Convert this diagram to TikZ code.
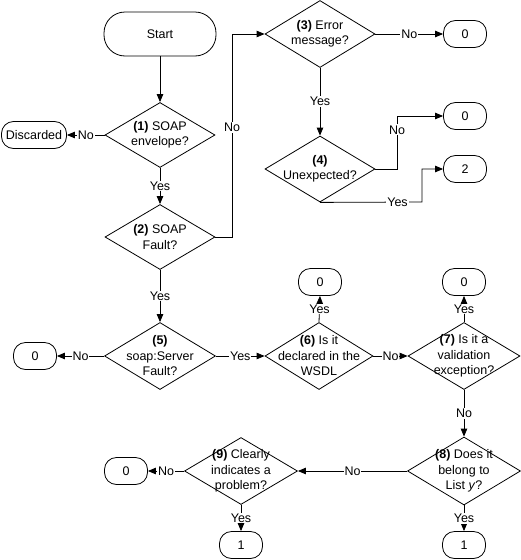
\documentclass[tikz,border=0pt]{standalone}
\usepackage{fontspec}
\setmainfont{Liberation Sans}
\usetikzlibrary{arrows.meta,shapes.geometric}
\begin{document}
\begin{tikzpicture}[x=1pt,y=-1pt,
  every node/.style={font=\fontsize{12.5}{15.5}\selectfont},
  txt/.style={align=center, inner sep=0pt},
  dia/.style={diamond, draw, inner sep=0pt, minimum width=110pt, minimum height=67pt},
  term/.style={draw, rounded corners=12pt, minimum width=43pt, minimum height=27pt, inner sep=0pt},
  arr/.style={draw, line width=0.8pt, -{Triangle[length=8pt,width=6.5pt]}},
  lbl/.style={fill=white, inner sep=1pt},
  line width=0.8pt]
\useasboundingbox (0,0) rectangle (521,560);

% terminals
\node[term, minimum width=112pt, minimum height=44pt, rounded corners=21pt] (start) at (160,34) {Start};
\node[term, minimum width=65pt] (disc) at (34,135) {Discarded};
\node[term] (z3) at (465,34) {0};
\node[term] (z4) at (465,116) {0};
\node[term] (two) at (465,169) {2};
\node[term] (z5) at (35,356) {0};
\node[term] (z6) at (320,282) {0};
\node[term] (z7) at (464,282) {0};
\node[term] (z9) at (126,471) {0};
\node[term] (one9) at (241,545) {1};
\node[term] (one8) at (464,545) {1};

% decisions
\node[dia, minimum height=65pt, label={[txt]center:{\textbf{(1)} SOAP\\envelope?}}] (d1) at (160,135) {};
\node[dia, minimum height=65pt, label={[txt]center:{\textbf{(2)} SOAP\\Fault?}}] (d2) at (160,237) {};
\node[dia, label={[txt]center:{\textbf{(3)} Error\\message?}}] (d3) at (320,34) {};
\node[dia, minimum height=66pt, label={[txt]center:{\textbf{(4)}\\Unexpected?}}] (d4) at (320,169) {};
\node[dia, minimum width=111pt, label={[txt]center:{\textbf{(5)}\\soap:Server\\Fault?}}] (d5) at (160,356) {};
\node[dia, minimum width=108pt, label={[txt]center:{\textbf{(6)} Is it\\declared in the\\WSDL}}] (d6) at (319,356) {};
\node[dia, minimum width=112pt, label={[txt]center:{\textbf{(7)} Is it a\\validation\\exception?}}] (d7) at (464,356) {};
\node[dia, minimum width=113pt, minimum height=68pt, label={[txt]center:{\textbf{(8)} Does it\\belong to\\List \textit{y}?}}] (d8) at (464,471) {};
\node[dia, minimum width=113pt, label={[txt]center:{\textbf{(9)} Clearly\\indicates a\\problem?}}] (d9) at (241,471) {};

% helper coordinates
\coordinate (c2a) at (232,237);
\coordinate (c2b) at (232,34);
\coordinate (c4a) at (397,169);
\coordinate (c4b) at (397,116);
\coordinate (c4c) at (422,202);
\coordinate (c4d) at (422,169);

% connectors
\draw[arr] (start.south) -- (d1.north);
\draw[arr] (d1.west) -- node[lbl]{No} (disc.east);
\draw[arr] (d1.south) -- node[lbl]{Yes} (d2.north);
\draw[arr] (d2.east) -- (c2a) -- node[lbl,pos=0.54]{No} (c2b) -- (d3.west);
\draw[arr] (d3.east) -- node[lbl]{No} (z3.west);
\draw[arr] (d3.south) -- node[lbl]{Yes} (d4.north);
\draw[arr] (d4.east) -- (c4a) -- node[lbl,pos=0.74]{No} (c4b) -- (z4.west);
\draw[arr] (d4.south) -- node[lbl,pos=0.76]{Yes} (c4c) -- (c4d) -- (two.west);
\draw[arr] (d2.south) -- node[lbl]{Yes} (d5.north);
\draw[arr] (d5.west) -- node[lbl]{No} (z5.east);
\draw[arr] (d5.east) -- node[lbl]{Yes} (d6.west);
\draw[arr] (d6.north) -- node[lbl]{Yes} (z6.south);
\draw[arr] (d6.east) -- node[lbl]{No} (d7.west);
\draw[arr] (d7.north) -- node[lbl]{Yes} (z7.south);
\draw[arr] (d7.south) -- node[lbl]{No} (d8.north);
\draw[arr] (d8.west) -- node[lbl]{No} (d9.east);
\draw[arr] (d9.west) -- node[lbl]{No} (z9.east);
\draw[arr] (d9.south) -- node[lbl]{Yes} (one9.north);
\draw[arr] (d8.south) -- node[lbl]{Yes} (one8.north);
\end{tikzpicture}
\end{document}
